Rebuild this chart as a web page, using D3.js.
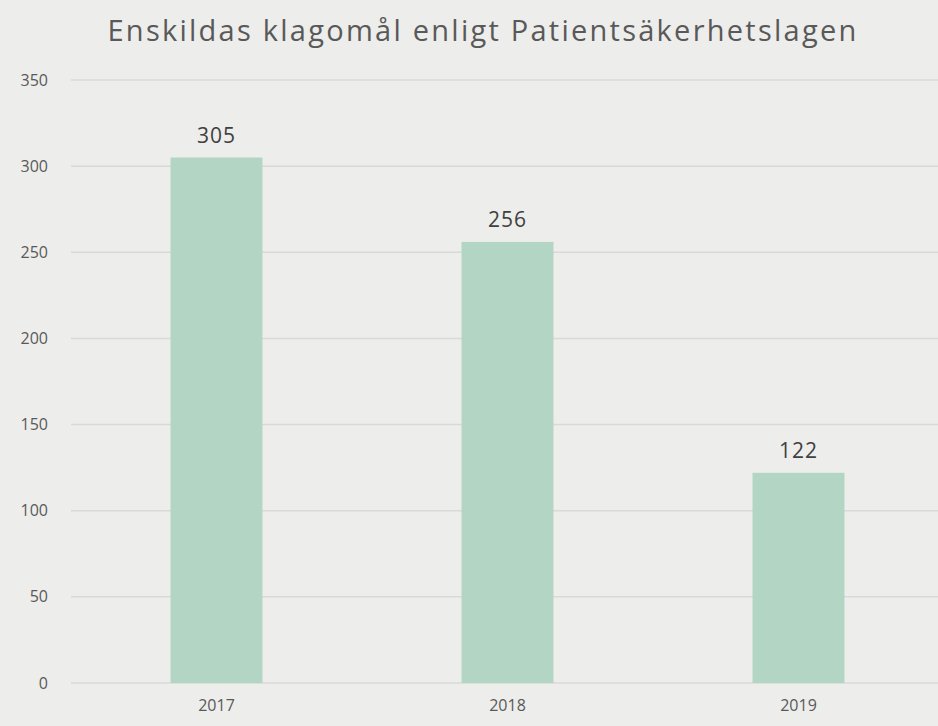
<!DOCTYPE html>
<html>
<head>
<meta charset="utf-8">
<script src="https://cdn.jsdelivr.net/npm/d3@7"></script>
<style>
  body { margin: 0; background: #ededeb; }
  svg { display: block; font-family: "Open Sans", sans-serif; }
  .axis path, .axis line { display: none; }
  .grid line { stroke: #d9d9d9; stroke-width: 1.5; }
</style>
</head>
<body>
<svg id="chart" width="938" height="726"></svg>
<script>
var years = ["2017", "2018", "2019"];
var complaints = [305, 256, 122];
var yTicks = [0, 50, 100, 150, 200, 250, 300, 350];
var title = "Enskildas klagomål enligt Patientsäkerhetslagen";

var margin = {top: 80, right: -6, bottom: 43, left: 71};
var width = 938 - margin.left - margin.right;
var height = 726 - margin.top - margin.bottom;

var svg = d3.select("#chart");
svg.append("rect")
    .attr("width", 938)
    .attr("height", 726)
    .attr("fill", "#ededeb");

svg.append("text")
    .attr("x", 483)
    .attr("y", 41)
    .attr("text-anchor", "middle")
    .attr("fill", "#595959")
    .style("font-size", "29px")
    .style("letter-spacing", "2.25px")
    .text(title);

var chart = svg.append("g")
    .attr("transform", `translate(${margin.left}, ${margin.top})`);

var yScale = d3.scaleLinear()
    .domain([0, 350])
    .range([height, 0]);
var xScale = d3.scaleBand()
    .domain(years)
    .range([0, width])
    .paddingInner(0.684)
    .paddingOuter(0.342);

// gridlines
chart.append("g")
    .attr("class", "grid")
    .selectAll("line")
    .data(yTicks)
    .enter().append("line")
        .attr("x1", 0)
        .attr("x2", width)
        .attr("y1", function(d) { return yScale(d); })
        .attr("y2", function(d) { return yScale(d); });

// y axis
chart.append("g")
    .attr("class", "y axis")
    .attr("transform", "translate(-23, 0)")
    .call(d3.axisLeft(yScale).tickValues(yTicks).tickSize(0).tickPadding(0))
    .attr("font-family", "Open Sans, sans-serif")
    .attr("font-size", 16)
    .selectAll("text").attr("fill", "#595959");

// x axis
chart.append("g")
    .attr("class", "x axis")
    .attr("transform", `translate(0, ${height + 17})`)
    .call(d3.axisBottom(xScale).tickSize(0).tickPadding(0))
    .attr("font-family", "Open Sans, sans-serif")
    .attr("font-size", 16)
    .selectAll("text").attr("fill", "#595959");

// bars
chart.selectAll("rect.bar")
    .data(complaints)
    .enter().append("rect")
        .attr("class", "bar")
        .attr("x", function(d, i) { return xScale(years[i]); })
        .attr("y", function(d) { return yScale(d); })
        .attr("width", xScale.bandwidth())
        .attr("height", function(d) { return height - yScale(d); })
        .attr("fill", "#b3d5c4");

// value labels
chart.selectAll("text.value")
    .data(complaints)
    .enter().append("text")
        .attr("class", "value")
        .attr("x", function(d, i) { return xScale(years[i]) + xScale.bandwidth() / 2; })
        .attr("y", function(d) { return yScale(d) - 15; })
        .attr("text-anchor", "middle")
        .attr("fill", "#404040")
        .style("font-size", "21px")
        .style("letter-spacing", "1px")
        .text(function(d) { return d; });
</script>
</body>
</html>
